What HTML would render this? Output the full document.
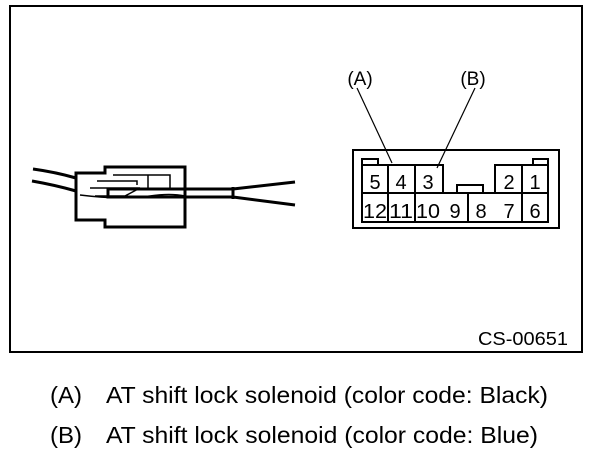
<!DOCTYPE html>
<html><head><style>
body{margin:0;background:#fff;width:608px;height:454px;overflow:hidden}
svg{display:block}
text{font-family:"Liberation Sans",Arial,sans-serif;fill:#000}
</style></head><body>
<svg width="608" height="454" viewBox="0 0 608 454">
<rect x="10" y="6" width="572" height="346" fill="none" stroke="#000" stroke-width="2"/>
<!-- left connector -->
<g fill="none" stroke="#000">
<path d="M33 169 Q55 172 76 178" stroke-width="3"/>
<path d="M32 181 Q55 185 76 191" stroke-width="3"/>
<path d="M105 167 H185 V227 H105 V220 H76 V173 H105 Z" stroke-width="3"/>
<path d="M113 175 H170 V189 M97 181 H137 V185 M148 175 V189 M80 195 Q120 200 150 196 Q170 193 185 196" stroke-width="1.5"/>
<path d="M90 188 H140 L125 196 H95" stroke-width="1.5"/>
<rect x="108" y="189" width="125" height="8" stroke-width="3"/>
<path d="M233 189 L295 182 M233 197 L295 205 M233 187 V199" stroke-width="3"/>
</g>
<!-- right connector -->
<g fill="none" stroke="#000" stroke-width="2">
<rect x="353" y="150" width="206" height="78"/>
<path d="M362 165 H443 V193 M362 165 V222 H548 V165 H495 V193 M388 165 V222 M415 165 V222 M468 193 V222 M522 165 V222 M362 193 H548"/>
<path d="M362 165 V159 H378 V165 M533 165 V159 H548 V165 M457 193 V185 H483 V193"/>
</g>
<g stroke="#000" stroke-width="1.2">
<line x1="357" y1="88" x2="392" y2="163"/>
<line x1="475" y1="88" x2="437" y2="168"/>
</g>
<g font-size="20" text-anchor="middle">
<text x="375" y="189">5</text><text x="401" y="189">4</text><text x="428" y="189">3</text>
<text x="509" y="189">2</text><text x="535" y="189">1</text>
<text x="375" y="218" textLength="24" lengthAdjust="spacingAndGlyphs">12</text><text x="401" y="218" textLength="24" lengthAdjust="spacingAndGlyphs">11</text><text x="428" y="218" textLength="24" lengthAdjust="spacingAndGlyphs">10</text>
<text x="455" y="218">9</text><text x="481" y="218">8</text><text x="509" y="218">7</text><text x="535" y="218">6</text>
<text x="360" y="85" font-size="19">(A)</text><text x="473" y="85" font-size="19">(B)</text>
</g>
<text x="478" y="345" font-size="18" textLength="90" lengthAdjust="spacingAndGlyphs">CS-00651</text>
<g font-size="23">
<text x="50" y="403" textLength="32" lengthAdjust="spacingAndGlyphs">(A)</text><text x="106" y="403" textLength="442" lengthAdjust="spacingAndGlyphs">AT shift lock solenoid (color code: Black)</text>
<text x="50" y="443" textLength="32" lengthAdjust="spacingAndGlyphs">(B)</text><text x="106" y="443" textLength="432" lengthAdjust="spacingAndGlyphs">AT shift lock solenoid (color code: Blue)</text>
</g>
</svg>
</body></html>
